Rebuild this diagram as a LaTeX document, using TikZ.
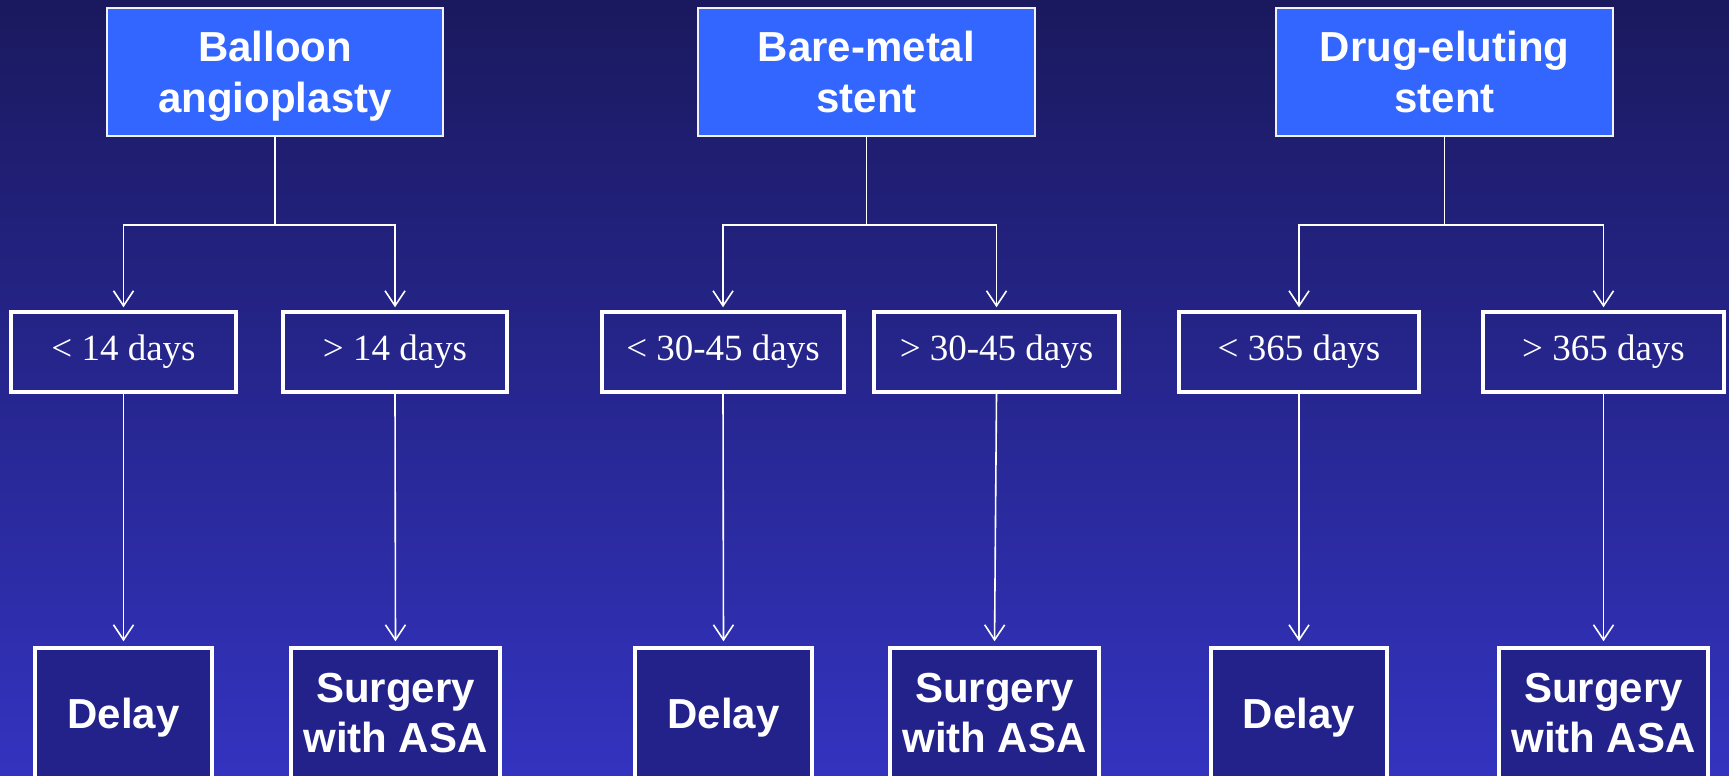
\documentclass[tikz,border=0pt]{standalone}
\usepackage{fontspec}
\setmainfont{Liberation Serif}
\newfontfamily\arialfont{Liberation Sans}
\usetikzlibrary{arrows.meta}
\definecolor{bgtop}{RGB}{26,25,94}
\definecolor{bgbot}{RGB}{51,51,192}
\definecolor{topfill}{RGB}{51,102,255}
\definecolor{botfill}{RGB}{34,34,138}
\tikzset{
  topbox/.style={draw=white!90!gray, line width=2pt, fill=topfill, text=white,
    font=\arialfont\bfseries\fontsize{42}{51}\selectfont, align=center,
    minimum height=128pt, inner sep=0pt, text depth=0pt},
  midbox/.style={draw=white, line width=3.5pt, text=white,
    font=\fontsize{37}{44}\selectfont, minimum height=80pt, inner sep=0pt},
  botbox/.style={draw=white, line width=3.5pt, fill=botfill, text=white,
    font=\arialfont\bfseries\fontsize{42}{50}\selectfont, align=center,
    minimum height=130pt, inner sep=0pt, text depth=0pt},
  conn/.style={draw=white, line width=1.6pt},
  arr/.style={conn, -{Straight Barb[length=15pt,width=20pt,line width=1.6pt]}}
}
\begin{document}
\begin{tikzpicture}[x=1pt,y=-1pt]
\useasboundingbox (0,0) rectangle (1729,776);
\shade[top color=bgtop, bottom color=bgbot] (0,0) rectangle (1729,776);
% top boxes
\node[topbox, minimum width=336pt] (t1) at (275,72) {Balloon\\angioplasty};
\node[topbox, minimum width=337pt] (t2) at (866.5,72) {Bare-metal\\stent};
\node[topbox, minimum width=337pt] (t3) at (1444.5,72) {Drug-eluting\\stent};
% middle boxes
\node[midbox, minimum width=225pt] (m1) at (123.5,352) {< 14 days};
\node[midbox, minimum width=224pt] (m2) at (395,352) {> 14 days};
\node[midbox, minimum width=242pt] (m3) at (723,352) {< 30-45 days};
\node[midbox, minimum width=245pt] (m4) at (996.5,352) {> 30-45 days};
\node[midbox, minimum width=240pt] (m5) at (1299,352) {< 365 days};
\node[midbox, minimum width=241pt] (m6) at (1603.5,352) {> 365 days};
% bottom boxes
\node[botbox, minimum width=177pt] (b1) at (123.5,713) {Delay};
\node[botbox, minimum width=209pt] (b2) at (395.5,713) {Surgery\\with ASA};
\node[botbox, minimum width=177pt] (b3) at (723.5,713) {Delay};
\node[botbox, minimum width=209pt] (b4) at (994.5,713) {Surgery\\with ASA};
\node[botbox, minimum width=176pt] (b5) at (1299,713) {Delay};
\node[botbox, minimum width=209pt] (b6) at (1603.5,713) {Surgery\\with ASA};
% junctions
\coordinate (j1) at (275,225);
\coordinate (j2) at (866.5,225);
\coordinate (j3) at (1444.5,225);
\draw[conn] (t1.south) -- (j1);
\draw[conn] (t2.south) -- (j2);
\draw[conn] (t3.south) -- (j3);
\draw[arr, shorten >=3pt] (j1) -| (m1.north);
\draw[arr, shorten >=3pt] (j1) -| (m2.north);
\draw[arr, shorten >=3pt] (j2) -| (m3.north);
\draw[arr, shorten >=3pt] (j2) -| (m4.north);
\draw[arr, shorten >=3pt] (j3) -| (m5.north);
\draw[arr, shorten >=3pt] (j3) -| (m6.north);
% lower arrows
\draw[arr, shorten >=5pt] (m1.south) -- (b1.north);
\draw[arr, shorten >=5pt] (m2.south) -- (b2.north);
\draw[arr, shorten >=5pt] (m3.south) -- (b3.north);
\draw[arr, shorten >=5pt] (m4.south) -- (b4.north);
\draw[arr, shorten >=5pt] (m5.south) -- (b5.north);
\draw[arr, shorten >=5pt] (m6.south) -- (b6.north);
\end{tikzpicture}
\end{document}
